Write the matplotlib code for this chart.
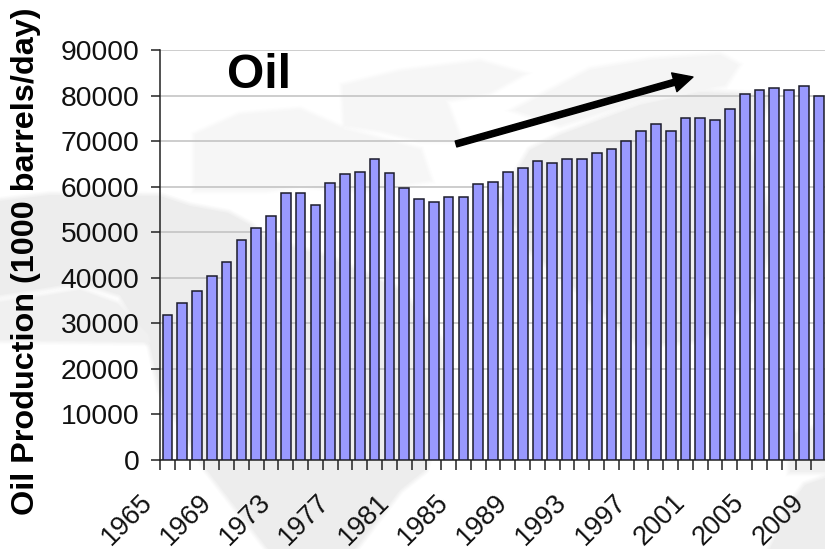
#!/usr/bin/env python3

import numpy as np
import matplotlib
matplotlib.use('Agg')
import matplotlib.pyplot as plt
from matplotlib.transforms import ScaledTranslation

plt.rcParams['font.family'] = ['Liberation Sans', 'DejaVu Sans']

years = list(range(1965, 2010))
production = [31800, 34400, 37100, 40400, 43500, 48200, 50900, 53600, 58600,
              58600, 56000, 60700, 62700, 63300, 66000, 63000, 59600, 57300,
              56600, 57700, 57700, 60600, 61000, 63300, 64000, 65600, 65300,
              66000, 66000, 67300, 68300, 70000, 72300, 73700, 72300, 75000,
              75000, 74600, 77000, 80300, 81300, 81700, 81300, 82000, 80000]
y_ticks = list(range(0, 100000, 10000))
year_step = 4

# Faint world map behind the chart, in pixel coordinates of the figure
land_south = [(0, 201), (50, 195), (160, 196), (190, 206), (228, 213), (250, 225),
              (268, 240), (330, 258), (400, 290), (440, 340), (445, 400), (425, 470),
              (400, 490), (355, 549), (268, 549), (207, 470), (160, 390), (150, 345),
              (120, 295), (80, 282), (45, 288), (0, 295)]
land_west = [(0, 302), (45, 296), (80, 290), (118, 304), (148, 335), (150, 342),
             (0, 340)]
land_africa = [(530, 150), (560, 135), (640, 105), (700, 92), (770, 95), (750, 150),
               (775, 235), (750, 300), (700, 340), (640, 345), (590, 300), (530, 250),
               (500, 200)]
land_north = [(343, 86), (400, 72), (480, 62), (522, 74), (490, 92), (445, 100),
              (460, 140), (420, 140), (380, 130), (345, 125)]
land_top = [(515, 110), (590, 70), (650, 60), (720, 55), (738, 65), (725, 85),
            (640, 100), (560, 125)]
land_mid = [(195, 135), (240, 115), (300, 110), (345, 130), (420, 150), (430, 180),
            (360, 190), (300, 185), (265, 190), (195, 190)]
land_east = [(770, 549), (790, 505), (805, 485), (825, 478), (825, 549)]
land_east2 = [(790, 435), (825, 425), (825, 472), (790, 472)]

fig = plt.figure(figsize=(8.25, 5.49), dpi=100)

bg = fig.add_axes([0, 0, 1, 1], zorder=0)
bg.set_xlim(0, 825)
bg.set_ylim(549, 0)
bg.axis('off')
for land, shade in [(land_south, '#ededed'), (land_west, '#f0f0f0'),
                    (land_africa, '#eeeeee'), (land_north, '#f6f6f6'),
                    (land_top, '#f5f5f5'), (land_mid, '#f6f6f6'),
                    (land_east, '#ededed'), (land_east2, '#f0f0f0')]:
    xs, ys = zip(*land)
    # Stacked translucent strokes soften the coastline
    for lw, alpha in [(6, 0.2), (4, 0.3), (2, 0.4)]:
        bg.fill(xs, ys, facecolor='none', edgecolor=shade, lw=lw, alpha=alpha)
    bg.fill(xs, ys, color=shade, lw=0)

ax = fig.add_axes([160 / 825, 1 - 460 / 549, 665 / 825, 410 / 549], zorder=1)
ax.patch.set_alpha(0)

positions = np.arange(len(years))
ax.bar(positions, production, width=0.66, color='#9999ff', edgecolor='#1c1c2c',
       linewidth=1.1, zorder=3)

ax.set_xlim(-0.5, 44.43)
ax.set_ylim(0, 90000)
ax.set_yticks(y_ticks)
ax.yaxis.grid(True, color='#c0c0c0', linewidth=1.1, zorder=1)
ax.set_axisbelow(True)

# Ticks sit between the bars, labels under every fourth bar
ax.set_xticks(np.arange(0, len(years)) - 0.5)
ax.set_xticklabels([])
ax.set_xticks(positions[::year_step], minor=True)
labels = ax.set_xticklabels([str(y) for y in years[::year_step]], minor=True, rotation=45,
                            ha='right', va='top', rotation_mode='anchor', fontsize=19.5,
                            color='#111111')
ax.tick_params(axis='x', which='major', length=7, width=1.1, color='#222222')
ax.tick_params(axis='x', which='minor', length=0, pad=21)
ax.tick_params(axis='y', length=6.5, width=1.1, color='#222222', pad=8.4,
               labelsize=20.3, labelcolor='#111111')
# tick_params resets label transforms, so the sideways shift comes after it
shift_left = ScaledTranslation(-28 / 100, 0, fig.dpi_scale_trans)
for label in labels:
    label.set_transform(label.get_transform() + shift_left)
for side in ['top', 'right']:
    ax.spines[side].set_visible(False)
for side in ['left', 'bottom']:
    ax.spines[side].set_color('#222222')
    ax.spines[side].set_linewidth(1.1)

fig.text(26 / 825, 1 - 261 / 549, 'Oil Production (1000 barrels/day)', rotation=90,
         ha='center', va='center', fontsize=23.3, fontweight='bold', color='black')
fig.text(259 / 825, 1 - 88 / 549, 'Oil', ha='center', va='baseline', fontsize=34.5,
         fontweight='bold', color='black')

ax.annotate('', xy=(693, 77), xytext=(456, 144), xycoords=bg.transData,
            textcoords=bg.transData,
            arrowprops=dict(width=4.4, headwidth=14, headlength=14, color='black',
                            shrink=0),
            zorder=5)

plt.savefig('out.png', dpi=100)
